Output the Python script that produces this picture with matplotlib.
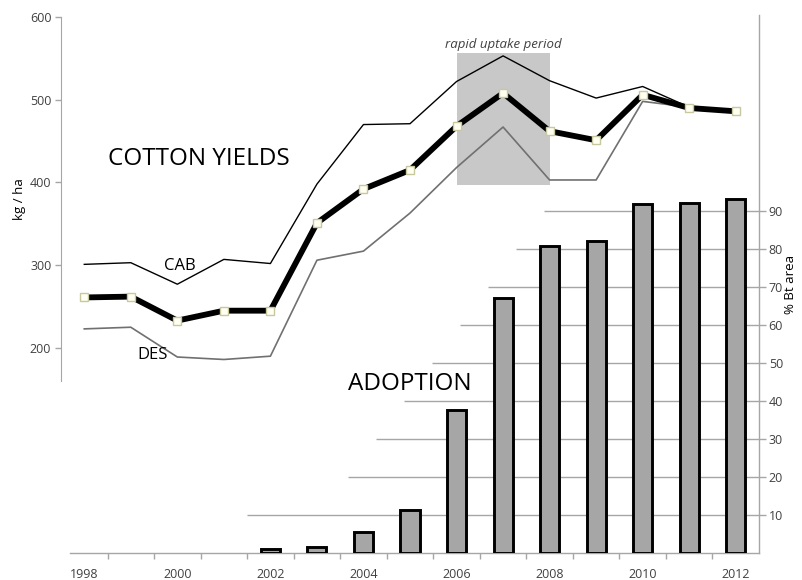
import matplotlib
matplotlib.use("Agg")
import matplotlib.pyplot as plt
from matplotlib.patches import Rectangle

plt.rcParams['font.family'] = ['Open Sans', 'DejaVu Sans']

# ---------------- data ----------------
years = list(range(1998, 2013))
cab = [301, 303, 277, 307, 302, 398, 470, 471, 522, 553, 523, 502, 516, 491, 487]
mean_yield = [261, 262, 233, 245, 245, 351, 392, 415, 468, 508, 462, 451, 506, 490, 486]
des = [223, 225, 189, 186, 190, 306, 317, 363, 418, 467, 403, 403, 498, 491, 487]

bar_years = [2002, 2003, 2004, 2005, 2006, 2007, 2008, 2009, 2010, 2011, 2012]
bt_area = [1, 1.5, 5.5, 11.3, 37.6, 67.1, 80.8, 82, 91.8, 92.1, 93.2]

xtick_labels = [1998, 2000, 2002, 2004, 2006, 2008, 2010, 2012]
left_ticks = [200, 300, 400, 500, 600]
right_ticks = [10, 20, 30, 40, 50, 60, 70, 80, 90]
uptake_period = (2006, 2008)
uptake_range = (397, 557)

# style: where each partial gridline begins (year units)
grid_starts = [2001.5, 2003.67, 2004.27, 2004.87, 2005.47, 2006.07, 2006.67, 2007.27, 2007.87]

GRAY = '#a6a6a6'
TXT = '#404040'

fig = plt.figure(figsize=(8.03, 5.80), dpi=100)
ax_bar = fig.add_axes([61/803, 27/580, 698/803, 538/580])
ax_line = fig.add_axes([61/803, 199/580, 698/803, 364/580])
ax_line.patch.set_alpha(0)

# ---------------- bars ----------------
xlim = (1997.5, 2012.5)
ax_bar.set_xlim(*xlim)
ax_bar.set_ylim(0, 141.6)
for lvl, xs in zip(right_ticks, grid_starts):
    ax_bar.plot([xs, xlim[1]], [lvl, lvl], color=GRAY, lw=1.0, zorder=1,
                solid_capstyle='butt')
ax_bar.bar(bar_years, bt_area, width=0.41, color='#a6a6a6', edgecolor='black',
           linewidth=2.1, zorder=3)
for s in ['left', 'top']:
    ax_bar.spines[s].set_visible(False)
for s in ['bottom', 'right']:
    ax_bar.spines[s].set_color(GRAY)
    ax_bar.spines[s].set_linewidth(1.0)
ax_bar.spines['bottom'].set_bounds(1997.7, xlim[1])
ax_bar.yaxis.tick_right()
ax_bar.yaxis.set_label_position('right')
ax_bar.set_yticks(right_ticks)
ax_bar.set_yticklabels([str(t) for t in right_ticks])
ax_bar.tick_params(axis='y', direction='out', length=5, width=1, color=GRAY,
                   labelcolor=TXT, labelsize=9, pad=2)
ax_bar.set_xticks(xtick_labels)
ax_bar.set_xticklabels([str(t) for t in xtick_labels])
ax_bar.set_xticks([y + 0.5 for y in years[:-1]], minor=True)
ax_bar.tick_params(axis='x', which='major', length=0, labelcolor=TXT,
                   labelsize=9, pad=11)
ax_bar.tick_params(axis='x', which='minor', direction='out', length=4,
                   width=1, color=GRAY)
ax_bar.set_ylabel('% Bt area', fontsize=9.5, color='black', labelpad=1)

# ---------------- lines ----------------
ax_line.set_xlim(*xlim)
ax_line.set_ylim(160, 600)
ax_line.add_patch(Rectangle((uptake_period[0], uptake_range[0]),
                            uptake_period[1] - uptake_period[0],
                            uptake_range[1] - uptake_range[0],
                            facecolor='#c8c8c8', edgecolor='none', zorder=1))
ax_line.plot(years, des, color='#707070', lw=1.2, zorder=3)
ax_line.plot(years, cab, color='black', lw=1.0, zorder=3)
ax_line.plot(years, mean_yield, color='black', lw=4.2, zorder=4,
             marker='s', markersize=5.5, markerfacecolor='#fffff2',
             markeredgecolor='#c8c8a0', markeredgewidth=1.0)
for s in ['right', 'top', 'bottom']:
    ax_line.spines[s].set_visible(False)
ax_line.spines['left'].set_color(GRAY)
ax_line.set_xticks([])
ax_line.set_yticks(left_ticks)
ax_line.set_yticklabels([str(t) for t in left_ticks])
ax_line.tick_params(axis='y', direction='out', length=4, width=1, color=GRAY,
                    labelcolor=TXT, labelsize=9, pad=3)
ax_line.set_ylabel('kg / ha', fontsize=9.5, color='black', labelpad=3)

ax_line.text(2007.0, 567, 'rapid uptake period', ha='center', va='center',
             fontsize=9.5, style='italic', color='#404040')
ax_line.text(1998.5, 428, 'COTTON YIELDS', ha='left', va='center',
             fontsize=17.5, color='black')
ax_line.text(2000.05, 299, 'CAB', ha='center', va='center', fontsize=12,
             color='black')
ax_line.text(1999.47, 191, 'DES', ha='center', va='center', fontsize=12,
             color='black')
fig.text(410/803, 1 - 384/580, 'ADOPTION', ha='center', va='center',
         fontsize=17.5, color='black')

fig.savefig('out.png', dpi=100)
